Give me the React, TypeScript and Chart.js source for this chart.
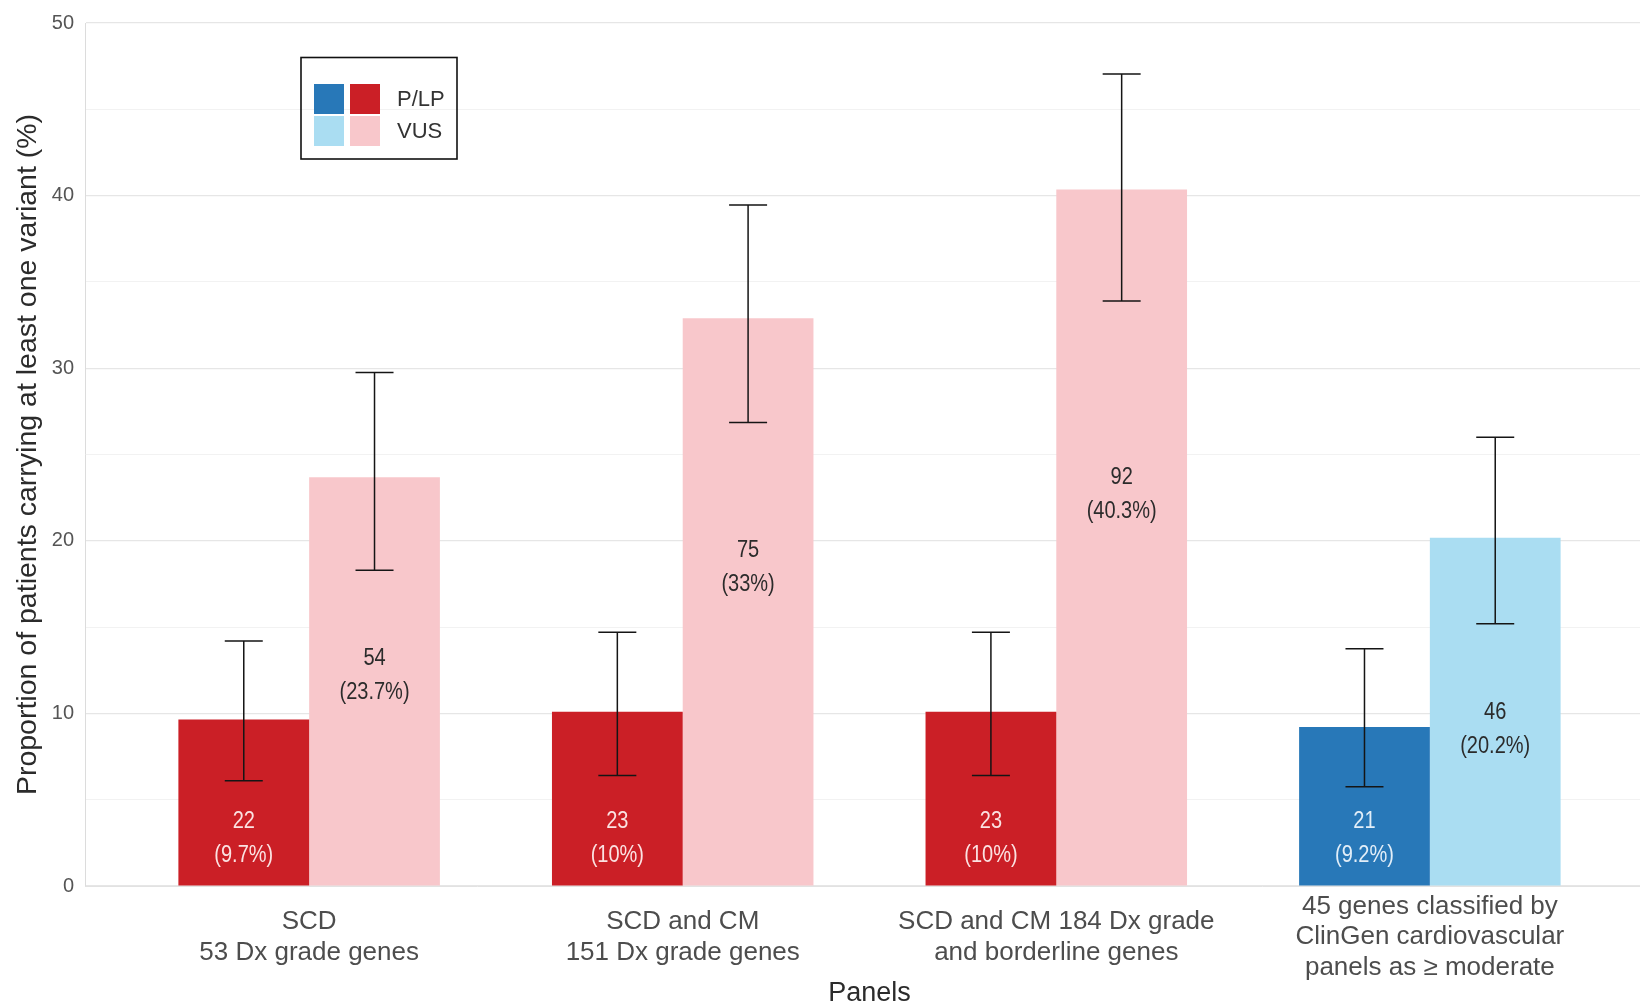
import React, { useEffect, useRef } from 'react';
import { Chart, registerables } from 'chart.js';

Chart.register(...registerables);

const categories: string[][] = [
  ['SCD', '53 Dx grade genes'],
  ['SCD and CM', '151 Dx grade genes'],
  ['SCD and CM 184 Dx grade', 'and borderline genes'],
  ['45 genes classified by', 'ClinGen cardiovascular', 'panels as ≥ moderate'],
];
const plpCounts = [22, 23, 23, 21];
const vusCounts = [54, 75, 92, 46];
const plpValues = [9.65, 10.09, 10.09, 9.21];
const vusValues = [23.68, 32.89, 40.35, 20.18];
const plpLower = [6.1, 6.4, 6.4, 5.75];
const plpUpper = [14.2, 14.7, 14.7, 13.75];
const vusLower = [18.3, 26.85, 33.9, 15.2];
const vusUpper = [29.75, 39.45, 47.05, 26.0];
const plpPctLabels = ['9.7%', '10%', '10%', '9.2%'];
const vusPctLabels = ['23.7%', '33%', '40.3%', '20.2%'];
const plpLabelY = [2.72, 2.72, 2.72, 2.72];
const vusLabelY = [12.17, 18.47, 22.67, 9.07];
const plpColors = ['#CB1F26', '#CB1F26', '#CB1F26', '#2878B8'];
const vusColors = ['#F8C7CB', '#F8C7CB', '#F8C7CB', '#AADDF2'];
const plpLabelColors = ['#FBE2E2', '#FBE2E2', '#FBE2E2', '#E2EEF8'];
const vusLabelColor = '#2b2b2b';
const yMin = 0;
const yMax = 50;
const yStep = 5;
const legendLabels = ['P/LP', 'VUS'];
const legendColors = [
  ['#2878B8', '#CB1F26'],
  ['#AADDF2', '#F8C7CB'],
];

const FONT = "'Liberation Sans', Arial, Helvetica, sans-serif";

const overlayPlugin = {
  id: 'overlay',
  afterDatasetsDraw(chart: any) {
    const ctx = chart.ctx as CanvasRenderingContext2D;
    const yScale = chart.scales.y;
    const sets = [
      { lower: plpLower, upper: plpUpper, counts: plpCounts, pct: plpPctLabels, ly: plpLabelY, colors: plpLabelColors },
      { lower: vusLower, upper: vusUpper, counts: vusCounts, pct: vusPctLabels, ly: vusLabelY, colors: null as any },
    ];
    sets.forEach((s, di) => {
      const meta = chart.getDatasetMeta(di);
      meta.data.forEach((el: any, i: number) => {
        const x = el.x;
        const yt = yScale.getPixelForValue(s.upper[i]);
        const yb = yScale.getPixelForValue(s.lower[i]);
        const half = 19;
        ctx.save();
        ctx.strokeStyle = '#151515';
        ctx.lineWidth = 1.5;
        ctx.beginPath();
        ctx.moveTo(x, yt);
        ctx.lineTo(x, yb);
        ctx.moveTo(x - half, yt);
        ctx.lineTo(x + half, yt);
        ctx.moveTo(x - half, yb);
        ctx.lineTo(x + half, yb);
        ctx.stroke();
        ctx.restore();

        const yc = yScale.getPixelForValue(s.ly[i]);
        const color = s.colors ? s.colors[i] : vusLabelColor;
        const lines = [String(s.counts[i]), '(' + s.pct[i] + ')'];
        ctx.save();
        ctx.fillStyle = color;
        ctx.font = `23px ${FONT}`;
        ctx.textAlign = 'center';
        ctx.textBaseline = 'middle';
        lines.forEach((t, li) => {
          ctx.save();
          ctx.translate(x, yc + (li === 0 ? -17 : 17));
          ctx.scale(0.87, 1);
          ctx.fillText(t, 0, 0);
          ctx.restore();
        });
        ctx.restore();
      });
    });

    // legend
    ctx.save();
    ctx.strokeStyle = '#111';
    ctx.lineWidth = 1.6;
    ctx.strokeRect(301, 57.5, 156, 101.5);
    const sq = 30;
    const xs = [314, 350];
    const ys = [84, 116];
    legendColors.forEach((row, r) => {
      row.forEach((c, k) => {
        ctx.fillStyle = c;
        ctx.fillRect(xs[k], ys[r], sq, sq);
      });
      ctx.fillStyle = '#333';
      ctx.font = `22px ${FONT}`;
      ctx.textAlign = 'left';
      ctx.textBaseline = 'middle';
      ctx.fillText(legendLabels[r], 397, ys[r] + sq / 2 + 1);
    });
    ctx.restore();
  },
};

export default function App() {
  const ref = useRef<HTMLCanvasElement | null>(null);
  useEffect(() => {
    if (!ref.current) return;
    const chart = new Chart(ref.current, {
      type: 'bar',
      data: {
        datasets: [
          {
            label: 'P/LP',
            data: plpValues.map((v, i) => ({ x: i, y: v })),
            backgroundColor: plpColors,
            borderWidth: 0,
            categoryPercentage: 0.7,
            barPercentage: 1.0,
          },
          {
            label: 'VUS',
            data: vusValues.map((v, i) => ({ x: i, y: v })),
            backgroundColor: vusColors,
            borderWidth: 0,
            categoryPercentage: 0.7,
            barPercentage: 1.0,
          },
        ],
      },
      options: {
        responsive: false,
        animation: false,
        devicePixelRatio: 1,
        layout: { padding: { left: 0, top: 23, right: 6, bottom: 0 } },
        plugins: {
          legend: { display: false },
          tooltip: { enabled: false },
        },
        scales: {
          x: {
            type: 'linear',
            min: -0.6,
            max: 3.6,
            offset: false,
            afterBuildTicks(scale: any) {
              scale.ticks = categories.map((_, i) => ({ value: i }));
            },
            afterFit(scale: any) {
              scale.height = 121;
            },
            grid: { display: false, drawTicks: false },
            border: { display: true, color: '#e2e2e2', width: 1 },
            ticks: {
              autoSkip: false,
              maxRotation: 0,
              minRotation: 0,
              padding: 21,
              crossAlign: 'center',
              color: '#4d4d4d',
              font: { family: FONT, size: 26, lineHeight: 1.165 },
              callback: (v: any) => {
                const i = Math.round(Number(v));
                return categories[i] ?? '';
              },
            },
            title: {
              display: true,
              text: 'Panels',
              color: '#2b2b2b',
              font: { family: FONT, size: 27, lineHeight: 0.96 },
              padding: { top: 0, bottom: 0 },
            },
          },
          y: {
            min: yMin,
            max: yMax,
            afterFit(scale: any) {
              scale.width = 85;
            },
            grid: {
              drawTicks: false,
              color: (c: any) => (c.tick && c.tick.value % 10 === 0 ? '#e6e6e6' : '#f2f2f2'),
              lineWidth: (c: any) => (c.tick && c.tick.value % 10 === 0 ? 1.2 : 1),
            },
            border: { display: true, color: '#dcdcdc', width: 1 },
            ticks: {
              stepSize: yStep,
              padding: 11,
              color: '#555',
              font: { family: FONT, size: 20 },
              callback: (v: any) => (Number(v) % 10 === 0 ? String(v) : ''),
            },
            title: {
              display: true,
              text: 'Proportion of patients carrying at least one variant (%)',
              color: '#2b2b2b',
              font: { family: FONT, size: 28.5, lineHeight: 1.2 },
              padding: { top: 11, bottom: 0 },
            },
          },
        },
      },
      plugins: [overlayPlugin],
    } as any);
    return () => chart.destroy();
  }, []);

  return (
    <div
      style={{
        position: 'absolute',
        left: 0,
        top: 0,
        width: 1640,
        height: 1007,
        overflow: 'hidden',
        background: '#fff',
      }}
    >
      <canvas ref={ref} width={1660} height={1007} style={{ display: 'block' }} />
    </div>
  );
}
